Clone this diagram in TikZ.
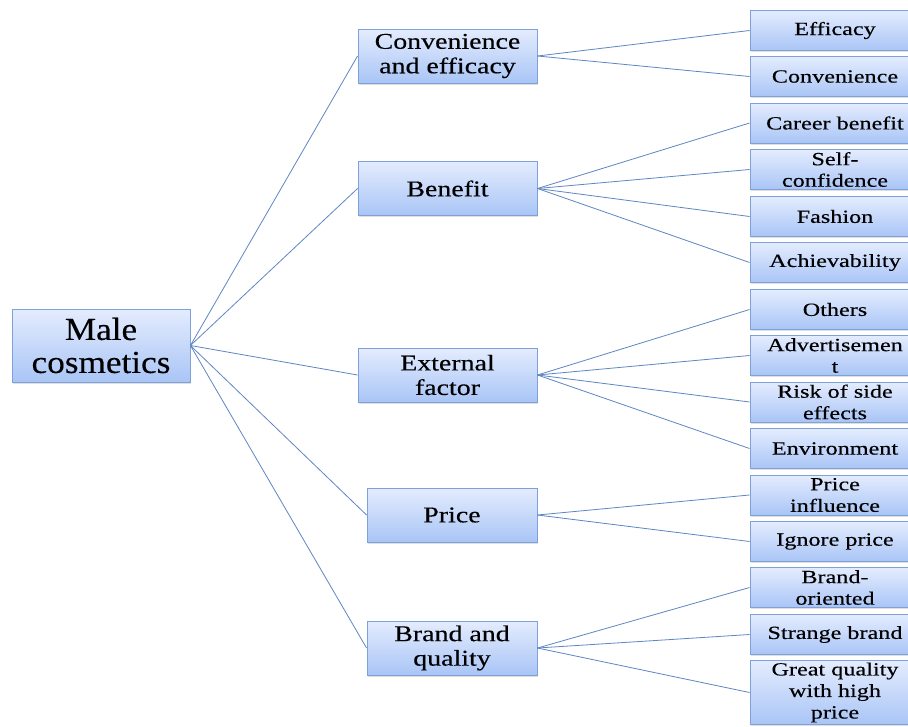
\documentclass[tikz,border=0pt]{standalone}
\usepackage{fontspec}
\setmainfont{Liberation Serif}
\newfontfamily\rootfont[FakeStretch=1.1,FakeBold=0.3]{Liberation Serif}
\newfontfamily\midfont[FakeStretch=1.24,FakeBold=0.3]{Liberation Serif}
\newfontfamily\leaffont[FakeStretch=1.3,FakeBold=0.3]{Liberation Serif}
\usetikzlibrary{shadows}
\definecolor{boxtop}{HTML}{E4ECFE}
\definecolor{boxbot}{HTML}{A9C5F6}
\definecolor{boxline}{HTML}{7EA2D8}
\definecolor{connline}{HTML}{5F86C4}
\tikzset{
  box/.style={draw=boxline, line width=0.9pt, top color=boxtop, bottom color=boxbot,
    align=center, inner sep=1pt, text=black,
    drop shadow={opacity=0.25, shadow xshift=1.2pt, shadow yshift=-1.5pt}},
  rootbox/.style={box, font=\rootfont\fontsize{32}{33}\selectfont, minimum width=178pt, minimum height=73pt},
  midbox/.style={box, font=\midfont\fontsize{22.5}{24.5}\selectfont, minimum height=54pt},
  leafbox/.style={box, font=\leaffont\fontsize{18.6}{21.5}\selectfont, minimum width=170pt, minimum height=40pt},
  conn/.style={draw=connline, line width=0.8pt}
}
\begin{document}
\begin{tikzpicture}[x=1pt,y=-1pt]
\useasboundingbox (0,0) rectangle (908,726);
\fill[white] (0,0) rectangle (908,726);

\node[rootbox] (root) at (101,345.5) {Male\\cosmetics};

\node[midbox, minimum width=179pt] (m1) at (447.5,56) {Convenience\\and efficacy};
\node[midbox, minimum width=179pt] (m2) at (447.5,188.5) {Benefit};
\node[midbox, minimum width=179pt] (m3) at (447.5,375) {External\\factor};
\node[midbox, minimum width=170pt] (m4) at (452,515) {Price};
\node[midbox, minimum width=170pt] (m5) at (452,648) {Brand and\\quality};

\node[leafbox] (l1) at (835,30.5) {Efficacy};
\node[leafbox] (l2) at (835,76.5) {Convenience};
\node[leafbox] (l3) at (835,123) {Career benefit};
\node[leafbox] (l4) at (835,169.5) {Self-\\confidence};
\node[leafbox] (l5) at (835,216.5) {Fashion};
\node[leafbox] (l6) at (835,262.5) {Achievability};
\node[leafbox] (l7) at (835,309.5) {Others};
\node[leafbox] (l8) at (835,355.5) {Advertisemen\\t};
\node[leafbox] (l9) at (835,402) {Risk of side\\effects};
\node[leafbox] (l10) at (835,448.5) {Environment};
\node[leafbox] (l11) at (835,495) {Price\\influence};
\node[leafbox] (l12) at (835,541.5) {Ignore price};
\node[leafbox] (l13) at (835,587.5) {Brand-\\oriented};
\node[leafbox] (l14) at (835,634.5) {Strange brand};
\node[leafbox, minimum height=64pt] (l15) at (835,692.5) {Great quality\\with high\\price};

\foreach \m in {m1,m2,m3,m4,m5} \draw[conn] (root.east) -- (\m.west);
\foreach \l in {l1,l2} \draw[conn] (m1.east) -- (\l.west);
\foreach \l in {l3,l4,l5,l6} \draw[conn] (m2.east) -- (\l.west);
\foreach \l in {l7,l8,l9,l10} \draw[conn] (m3.east) -- (\l.west);
\foreach \l in {l11,l12} \draw[conn] (m4.east) -- (\l.west);
\foreach \l in {l13,l14,l15} \draw[conn] (m5.east) -- (\l.west);
\end{tikzpicture}
\end{document}
